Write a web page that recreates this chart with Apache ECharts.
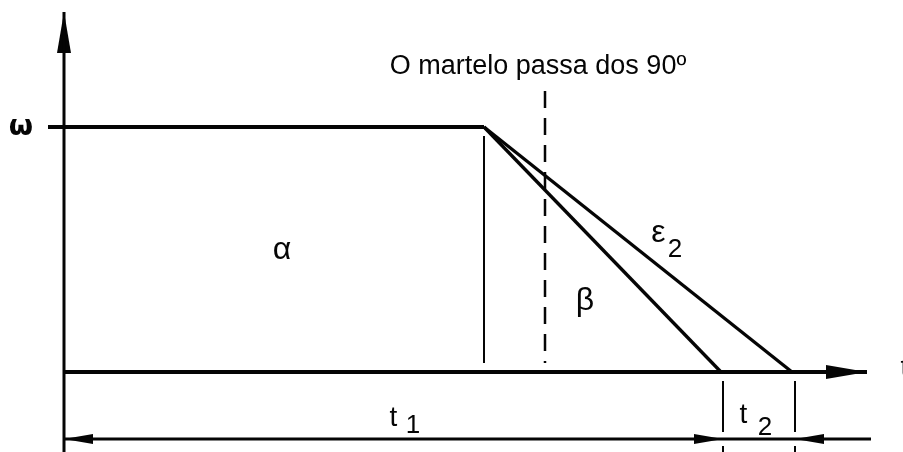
<!DOCTYPE html>
<html>
<head>
<meta charset="utf-8">
<script src="https://cdn.jsdelivr.net/npm/echarts@6/dist/echarts.min.js"></script>
<style>
  html, body { margin: 0; background: #fff; }
  #chart { width: 903px; height: 452px; }
</style>
</head>
<body>
<div id="chart"></div>
<script>
// eixos: t em unidades arbitrárias, ω normalizado (patamar = 1)
const tRange = [-6.4, 83.9];
const wRange = [-0.3265, 1.5184];

const tBreak = 42;     // fim do patamar
const t90 = 48.1;      // o martelo passa dos 90º
const tBeta = 65.7;    // fim da recta beta
const tEps = 72.8;     // fim da recta epsilon2
const tArrow = 80.3;   // ponta da seta do eixo t
const wArrow = 1.469;  // ponta da seta do eixo ω
const wDim = -0.273;   // linha de cota t1 / t2

const plateau = [[-1.6, 1], [tBreak, 1]];
const baseline = [[0, 0], [tArrow, 0]];
const wAxis = [[0, wRange[0]], [0, wArrow]];
const breakLine = [[tBreak, 0.963], [tBreak, 0.037]];
const line90 = [[t90, 1.147], [t90, 0.037]];
const betaLine = [[tBreak, 1], [tBeta, 0]];
const epsLine = [[tBreak, 1], [tEps, 0]];
const dimLine = [[0, wDim], [80.7, wDim]];
const dimTicks = [65.9, 73.1];
const tickUpper = [-0.037, -0.245];
const tickLower = [-0.302, wRange[0]];

const axisHeads = [[0, wArrow, 'up'], [tArrow, 0, 'right']];
const dimHeads = [[0, wDim, 'left'], [65.9, wDim, 'right'], [73.1, wDim, 'left']];

const labelText = ['ω', 'α', 'β', 'ε', '2', 't', '1', 't', '2', 't', 'O martelo passa dos 90º'];
const labelKind = ['omega', 'greek', 'greek', 'greek', 'sub', 't', 'sub', 't', 'sub', 'tEdge', 'note'];
const labelAt = [
  [-4.3, 0.996], [21.8, 0.498], [52.1, 0.29], [59.45, 0.565], [61.1, 0.5],
  [32.95, -0.188], [34.9, -0.22], [67.95, -0.176], [70.1, -0.227],
  [83.65, 0.016], [47.4, 1.247]
];

const ink = '#050505';
const labelStyle = {
  omega: { font: 'bold 28px "DejaVu Sans"', align: 'center' },
  greek: { font: '32px "Liberation Sans"', align: 'center' },
  sub: { font: '26px "Liberation Sans"', align: 'center' },
  t: { font: '28px "Liberation Sans"', align: 'center' },
  tEdge: { font: '28px "Liberation Sans"', align: 'left' },
  note: { font: '27px "Liberation Sans"', align: 'center' }
};

function seg(data, width, dash) {
  return {
    type: 'line',
    data: data,
    symbol: 'none',
    silent: true,
    lineStyle: { color: ink, width: width, type: dash || 'solid', cap: 'butt' }
  };
}

// setas desenhadas a partir da ponta
function heads(data, len, half) {
  return {
    type: 'custom',
    silent: true,
    data: data.map((d) => [d[0], d[1], ['up', 'right', 'left'].indexOf(d[2])]),
    renderItem: (params, api) => {
      const p = api.coord([api.value(0), api.value(1)]);
      const dir = api.value(2);
      let pts;
      if (dir === 0) pts = [[p[0], p[1]], [p[0] - half, p[1] + len], [p[0] + half, p[1] + len]];
      else if (dir === 1) pts = [[p[0], p[1]], [p[0] - len, p[1] - half], [p[0] - len, p[1] + half]];
      else pts = [[p[0], p[1]], [p[0] + len, p[1] - half], [p[0] + len, p[1] + half]];
      return { type: 'polygon', shape: { points: pts }, style: { fill: ink } };
    }
  };
}

const series = [
  seg(wAxis, 3),
  seg(plateau, 4),
  seg(baseline, 4),
  seg(breakLine, 2),
  seg(line90, 2.5, [17, 10]),
  seg(betaLine, 3.3),
  seg(epsLine, 3.3),
  seg(dimLine, 3),
  heads(axisHeads, 41, 7),
  heads(dimHeads, 29, 5)
];
dimTicks.forEach((t) => {
  series.push(seg([[t, tickUpper[0]], [t, tickUpper[1]]], 2));
  series.push(seg([[t, tickLower[0]], [t, tickLower[1]]], 2));
});
series.push({
  type: 'custom',
  silent: true,
  data: labelAt.map((d, i) => [d[0], d[1], i]),
  renderItem: (params, api) => {
    const p = api.coord([api.value(0), api.value(1)]);
    const i = api.value(2);
    const s = labelStyle[labelKind[i]];
    return {
      type: 'text',
      x: p[0],
      y: p[1],
      style: { text: labelText[i], font: s.font, fill: ink, align: s.align, verticalAlign: 'middle' }
    };
  }
});

const chart = echarts.init(document.getElementById('chart'));
chart.setOption({
  animation: false,
  backgroundColor: '#fff',
  grid: { left: 0, right: 0, top: 0, bottom: 0 },
  xAxis: { type: 'value', min: tRange[0], max: tRange[1], show: false },
  yAxis: { type: 'value', min: wRange[0], max: wRange[1], show: false },
  series: series
});
</script>
</body>
</html>
